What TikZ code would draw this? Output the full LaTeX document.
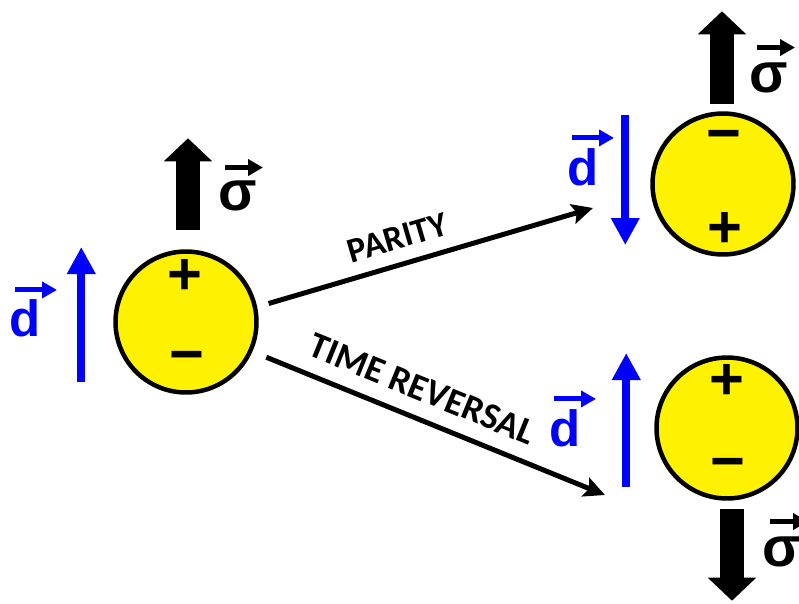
\documentclass[tikz,border=0pt]{standalone}
\usepackage{fontspec}
\setmainfont{Liberation Sans}
\newfontfamily\labelfont{Carlito}
\usetikzlibrary{arrows.meta, positioning}
\tikzset{
  particle/.style={
    circle, draw=black, line width=0.09cm, fill=yellow,
    minimum size=2.82cm, inner sep=0pt
  },
  charge/.style={inner sep=0pt, font=\fontsize{34}{34}\selectfont\bfseries},
  dsym/.style={inner sep=0pt, text=blue, font=\fontsize{29}{29}\selectfont\bfseries},
  ssym/.style={inner sep=0pt, text=black, font=\fontsize{32}{32}\selectfont\bfseries},
  dipole/.style={-{Triangle[length=0.54cm,width=0.54cm]}, line width=0.16cm, draw=blue},
  spin/.style={-{Triangle[length=0.46cm,width=0.94cm]}, line width=0.48cm, draw=black},
  vecarr/.style={-{Triangle[length=0.3cm,width=0.32cm]}, line width=0.1cm, draw=#1},
  vecarr/.default=black,
  transform/.style={-{Stealth[length=0.42cm,width=0.4cm,inset=0.08cm]}, line width=0.1cm, draw=black},
  steplabel/.style={sloped, font=\labelfont\fontsize{20}{20}\selectfont\bfseries}
}

\begin{document}
\begin{tikzpicture}[x=0.02cm, y=-0.02cm]
  \useasboundingbox (0,0) rectangle (799,603);

  % original particle
  \node[particle] (pL) at (186,322) {};
  \node[charge] (pLp) at ([shift={(-1,-45)}]pL.center) {+};
  \node[charge] (pLm) at ([shift={(1,41)}]pL.center) {−};
  \draw[dipole] ([shift={(-32,60)}]pL.west) -- ++(0,-135);
  \draw[spin] ([shift={(2,-19)}]pL.north) -- ++(0,-92);
  \node[dsym] (dL) at (25,318) {d};
  \node[ssym] (sL) at (238,196) {σ};
  \draw[vecarr=blue] ([shift={(-10,-9)}]dL.north) -- ++(42,0);
  \draw[vecarr] ([shift={(-13,-13)}]sL.north) -- ++(38,0);

  % after parity
  \node[particle] (pP) at (723,184) {};
  \node[charge] (pPm) at ([shift={(1,-42)}]pP.center) {−};
  \node[charge] (pPp) at ([shift={(2,46)}]pP.center) {+};
  \draw[dipole] ([shift={(-25,-69)}]pP.west) -- ++(0,130);
  \draw[spin] ([shift={(-1,-7)}]pP.north) -- ++(0,-93);
  \node[dsym] (dP) at (583,167) {d};
  \node[ssym] (sP) at (769,78) {σ};
  \draw[vecarr=blue] ([shift={(-11,-10)}]dP.north) -- ++(42,0);
  \draw[vecarr] ([shift={(-12,-15)}]sP.north) -- ++(38,0);

  % after time reversal
  \node[particle] (pT) at (727,428) {};
  \node[charge] (pTp) at ([shift={(0,-46)}]pT.center) {+};
  \node[charge] (pTm) at ([shift={(1,42)}]pT.center) {−};
  \draw[dipole] ([shift={(-28,59)}]pT.west) -- ++(0,-134);
  \draw[spin] ([shift={(5,8)}]pT.south) -- ++(0,92);
  \node[dsym] (dT) at (565,428) {d};
  \node[ssym] (sT) at (782,552) {σ};
  \draw[vecarr=blue] ([shift={(-11,-10)}]dT.north) -- ++(42,0);
  \draw[vecarr] ([shift={(-12,-15)}]sT.north) -- ++(38,0);

  % transformations
  \coordinate (parEnd) at (593,208);
  \coordinate (trEnd) at (605,495);
  \draw[transform, shorten <=0.24cm] (pL.12) -- node[steplabel, above=4pt, pos=0.44] {PARITY} (parEnd);
  \draw[transform, shorten <=0.3cm] (pL.-24) -- node[steplabel, font=\labelfont\fontsize{21}{21}\selectfont\bfseries, above=5pt, pos=0.45] {TIME REVERSAL} (trEnd);
\end{tikzpicture}
\end{document}
